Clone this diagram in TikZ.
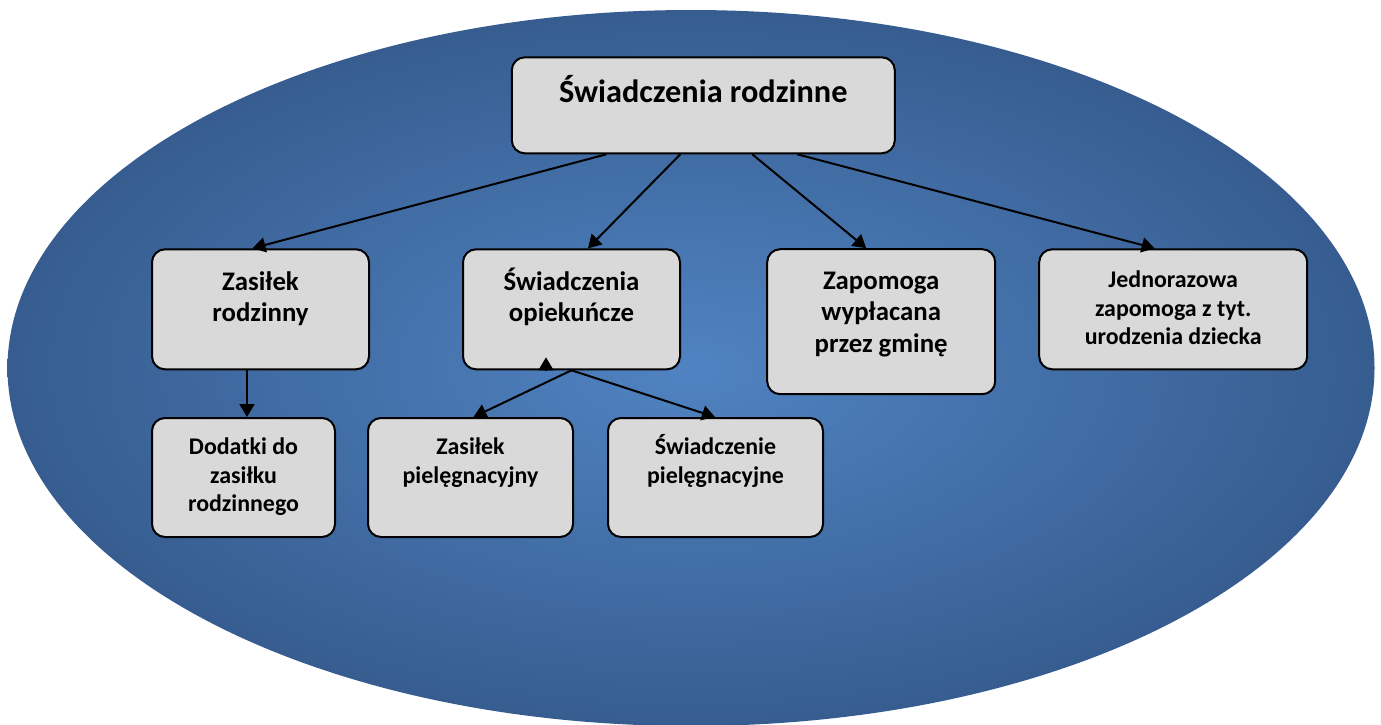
\documentclass[tikz,border=0pt]{standalone}
\usepackage{fontspec}
\setmainfont{Carlito}
\usetikzlibrary{arrows.meta,calc}
\definecolor{ellin}{RGB}{80,131,194}
\definecolor{ellout}{RGB}{55,93,144}
\definecolor{boxfill}{RGB}{217,217,217}
\begin{document}
\begin{tikzpicture}[x=1pt,y=-1pt,
  box/.style={draw=black, line width=2pt, fill=boxfill, rounded corners=13pt, inner sep=0pt},
  lbltitle/.style={align=center, inner sep=0pt, anchor=base, font=\bfseries\fontsize{32.3}{38}\selectfont},
  lblbig/.style={align=center, inner sep=0pt, anchor=base, font=\bfseries\fontsize{26.8}{31.5}\selectfont},
  lblsmall/.style={align=center, inner sep=0pt, anchor=base, font=\bfseries\fontsize{23.9}{28.5}\selectfont},
  conn/.style={line width=2pt, -{Triangle[length=13pt,width=15pt]}}]
\useasboundingbox (0,0) rectangle (1381,724);
\fill[white] (0,0) rectangle (1381,724);
\shade[inner color=ellin, outer color=ellout] (691,368) ellipse [x radius=683.5, y radius=358];
% boxes
\node[box, minimum width=383pt, minimum height=96pt] (top) at (703.3,105.3) {};
\node[box, minimum width=217pt, minimum height=120pt] (zr) at (260.5,309.3) {};
\node[box, minimum width=217pt, minimum height=120pt] (so) at (571.5,309.3) {};
\node[box, minimum width=228pt, minimum height=145pt] (zap) at (881.2,321.7) {};
\node[box, minimum width=268pt, minimum height=120pt] (jed) at (1173.2,309.3) {};
\node[box, minimum width=183pt, minimum height=119pt] (dod) at (243.5,477.5) {};
\node[box, minimum width=205pt, minimum height=119pt] (zp) at (470.5,477.5) {};
\node[box, minimum width=215pt, minimum height=119pt] (sp) at (715.5,477.5) {};
% labels (anchor base = baseline of last line)
\node[lbltitle] (ttop) at (703.3,102.3) {Świadczenia rodzinne};
\node[lblbig] (tzr) at (260.5,321.7) {Zasiłek\\rodzinny};
\node[lblbig] (tso) at (571.5,321.7) {Świadczenia\\opiekuńcze};
\node[lblbig] (tzap) at (881.2,352) {Zapomoga\\wypłacana\\przez gminę};
\node[lblsmall] (tjed) at (1173.2,344.5) {Jednorazowa\\zapomoga z tyt.\\urodzenia dziecka};
\node[lblsmall] (tdod) at (243.5,511.7) {Dodatki do\\zasiłku\\rodzinnego};
\node[lblsmall] (tzp) at (470.5,483.3) {Zasiłek\\pielęgnacyjny};
\node[lblsmall] (tsp) at (715.5,483.3) {Świadczenie\\pielęgnacyjne};
% connectors
\draw[conn] ([xshift=-97pt]top.south) -- ([xshift=-8pt]zr.north);
\draw[conn] ([xshift=-23pt]top.south) -- ([xshift=16.5pt]so.north);
\draw[conn] ([xshift=49pt]top.south) -- ([xshift=-15pt]zap.north);
\draw[conn] ([xshift=94pt]top.south) -- ([xshift=-18.5pt]jed.north);
\draw[conn] ([xshift=-13.5pt]zr.south) -- ([xshift=3.5pt]dod.north);
\draw[conn] (so.south) -- ([xshift=3pt]zp.north);
\draw[conn] (so.south) -- ([xshift=-0.5pt]sp.north);
\coordinate (stub) at ([xshift=-25.5pt]so.south);
\draw[conn] (stub) -- ++(0,-13);
\end{tikzpicture}
\end{document}
